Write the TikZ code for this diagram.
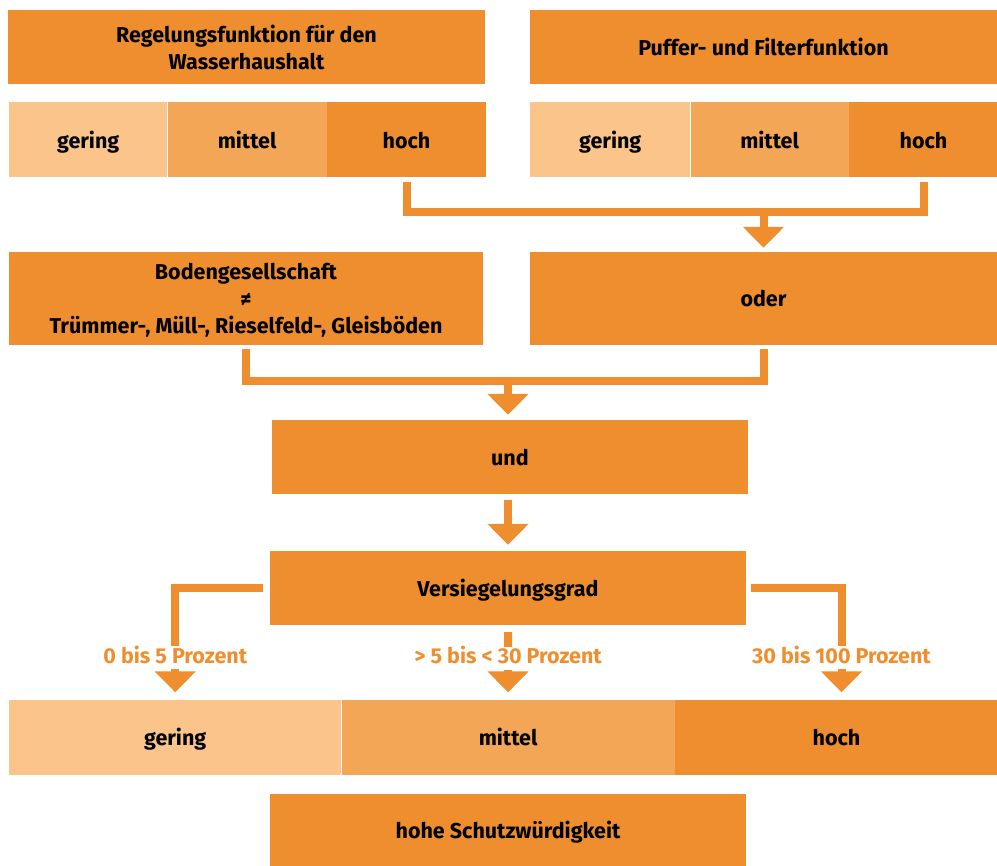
\documentclass[tikz,border=0pt]{standalone}
\usepackage{fontspec}
\setmainfont{Fira Sans}
\usetikzlibrary{positioning,arrows.meta}
\definecolor{SoilDark}{RGB}{239,142,46}
\definecolor{SoilMid}{RGB}{243,167,86}
\definecolor{SoilLight}{RGB}{250,196,138}
\tikzset{
  box/.style={fill=SoilDark,inner sep=0pt,align=center,
    font=\fontsize{21.5}{27}\selectfont\bfseries},
  cell/.style={inner sep=0pt,minimum height=75pt,text height=21pt,text depth=4pt,
    font=\fontsize{21.5}{27}\selectfont\bfseries},
  onebox/.style={cell,fill=SoilDark},
  lowbox/.style={cell,fill=SoilLight},
  midbox/.style={cell,fill=SoilMid},
  highbox/.style={cell,fill=SoilDark},
  link/.style={draw=SoilDark,line width=8pt},
  flow/.style={link,-{Triangle[width=40pt,length=21pt]}},
  share/.style={fill=white,text=SoilDark,inner sep=2pt,text height=15pt,text depth=4pt,
    font=\fontsize{21.5}{27}\selectfont\bfseries}
}
\begin{document}
\begin{tikzpicture}[x=1pt,y=1pt]
  \useasboundingbox (0,0) rectangle (997,-866);
  % soil functions
  \node[box,minimum width=477pt,minimum height=74pt] (regel) at (246.5,-47.5) {Regelungsfunktion für den\\Wasserhaushalt};
  \node[onebox,minimum width=467pt,minimum height=74pt] (puffer) at (763.5,-47) {Puffer- und Filterfunktion};
  % rating scales below each function
  \node[lowbox,minimum width=158pt,anchor=west] (lg) at (9,-140) {gering};
  \node[midbox,minimum width=159pt,right=0pt of lg] (lm) {mittel};
  \node[highbox,minimum width=159pt,right=0pt of lm] (lh) {hoch};
  \node[lowbox,minimum width=160pt,anchor=west] (rg) at (530,-140) {gering};
  \node[midbox,minimum width=158pt,right=0pt of rg] (rm) {mittel};
  \node[highbox,minimum width=149pt,right=0pt of rm] (rh) {hoch};
  % combination
  \node[box,text depth=0pt,minimum width=474pt,minimum height=93pt] (boden) at (246,-298.5) {Bodengesellschaft\\≠\\Trümmer-, Müll-, Rieselfeld-, Gleisböden};
  \node[onebox,minimum width=467pt,minimum height=93pt] (oder) at (763.5,-298.5) {oder};
  \node[onebox,minimum width=476pt,minimum height=74pt] (und) at (510,-457) {und};
  \node[onebox,minimum width=476pt,minimum height=74pt] (versieg) at (508,-588) {Versiegelungsgrad};
  % final rating
  \node[lowbox,minimum width=332pt,anchor=west] (bg) at (9,-737) {gering};
  \node[midbox,minimum width=333pt,right=0pt of bg] (bm) {mittel};
  \node[highbox,minimum width=323pt,right=0pt of bm] (bh) {hoch};
  \node[onebox,minimum width=476pt,minimum height=72pt] (schutz) at (508,-830) {hohe Schutzwürdigkeit};

  % connectors
  \coordinate (fork1) at ([yshift=-34pt]lh.south);
  \coordinate (fork2) at ([yshift=-36pt]boden.south);
  \draw[link] ([yshift=-4pt]lh.south) -- (fork1) -- (fork1 -| rh.south) -- ([yshift=-4pt]rh.south);
  \draw[flow] (oder.north |- fork1) -- ([yshift=4pt]oder.north);
  \draw[link] ([yshift=-4pt]boden.south) -- (fork2) -- (fork2 -| oder.south) -- ([yshift=-4pt]oder.south);
  \draw[flow] (versieg.north |- fork2) -- ([yshift=5pt]versieg.north |- und.north);
  \draw[flow] ([yshift=-6pt]versieg.north |- und.south) -- ([yshift=6pt]versieg.north);
  \draw[flow] ([xshift=-7pt]versieg.west) -| ([yshift=7pt]bg.north)
    node[share,pos=0.835] (pct1) {0 bis 5 Prozent};
  \draw[flow] ([yshift=-7pt]versieg.south) -- ([yshift=7pt]bm.north)
    node[share,pos=0.43] (pct2) {> 5 bis < 30 Prozent};
  \draw[flow] ([xshift=5pt]versieg.east) -| ([xshift=5pt,yshift=7pt]bh.north)
    node[share,pos=0.835] (pct3) {30 bis 100 Prozent};
\end{tikzpicture}
\end{document}
